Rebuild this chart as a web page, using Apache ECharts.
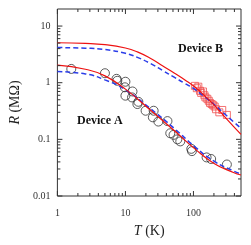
<!DOCTYPE html>
<html><head><meta charset="utf-8">
<script src="https://cdn.jsdelivr.net/npm/echarts@6/dist/echarts.min.js"></script>
<style>html,body{margin:0;padding:0;background:#fff}#c{width:251px;height:245px}</style>
</head><body><div id="c"></div>
<script>
// Device A measurements (circles)
const devA_T = [1.6, 5.0, 7.4, 7.6, 10, 9.8, 10, 12.7, 12.5, 15, 15.5, 19.8, 26, 25.3, 30.5, 41.5, 45.6, 51, 58, 64, 93, 95, 156, 182, 310];
const devA_R = [1.75, 1.47, 1.17, 1.08, 1.04, 0.83, 0.59, 0.70, 0.55, 0.42, 0.46, 0.32, 0.32, 0.245, 0.206, 0.21, 0.128, 0.12, 0.10, 0.092, 0.068, 0.062, 0.048, 0.045, 0.036];
// Device B measurements (squares)
const devB_T = [105, 112, 118, 125, 130, 138, 145, 150, 160, 168, 175, 185, 195, 205, 215, 240, 265, 310];
const devB_R = [0.88, 0.80, 0.85, 0.72, 0.66, 0.70, 0.60, 0.55, 0.52, 0.48, 0.44, 0.42, 0.40, 0.38, 0.34, 0.30, 0.33, 0.27];
// fit curves
const fitA_T    = [1, 2.58, 5, 10, 23.9, 52, 105, 198, 387, 500];
const fitA_red  = [2.04, 1.73, 1.32, 0.77, 0.32, 0.143, 0.068, 0.038, 0.026, 0.0235];
const fitA_blue = [1.57, 1.43, 1.12, 0.75, 0.34, 0.157, 0.074, 0.0415, 0.0277, 0.0245];
const fitB_T    = [1, 2.58, 5, 10, 15, 23.9, 35, 52, 75, 105, 150, 198, 280, 387, 500];
const fitB_red  = [5.07, 4.95, 4.7, 4.1, 3.5, 2.65, 2.0, 1.48, 1.12, 0.84, 0.57, 0.41, 0.26, 0.17, 0.122];
const fitB_blue = [4.17, 4.07, 3.85, 3.3, 2.8, 2.15, 1.65, 1.25, 0.97, 0.76, 0.55, 0.42, 0.29, 0.205, 0.157];
// axes
const xMin = 1, xMax = 500, yMin = 0.01, yMax = 20;
const xMajor = [1, 10, 100];
const xMinor = [2,3,4,5,6,7,8,9,20,30,40,50,60,70,80,90,200,300,400];
const yMajor = [0.01, 0.1, 1, 10];
const yMinor = [0.02,0.03,0.04,0.05,0.06,0.07,0.08,0.09,0.2,0.3,0.4,0.5,0.6,0.7,0.8,0.9,2,3,4,5,6,7,8,9];

const zip = (a, b) => a.map((v, i) => [v, b[i]]);
const serif = '"Liberation Serif","DejaVu Serif",serif';

const xTicks = xMajor.map(v => [v, 1, 5]).concat(xMinor.map(v => [v, 1, 3]));
const yTicks = yMajor.map(v => [1, v, 5]).concat(yMinor.map(v => [1, v, 3]));
const tickStyle = {stroke: '#333', lineWidth: 1};

const chart = echarts.init(document.getElementById('c'), null, {renderer: 'canvas'});
chart.setOption({
  animation: false,
  grid: {left: 55, right: 10, top: 9, bottom: 49, show: true, borderColor: '#333', borderWidth: 1},
  xAxis: {
    type: 'log', logBase: 10, min: xMin, max: xMax,
    axisLine: {show: false}, axisTick: {show: false}, splitLine: {show: false},
    axisLabel: {fontFamily: serif, fontSize: 10, color: '#333', margin: 12, showMaxLabel: false},
    name: '{i|T} (K)', nameLocation: 'middle', nameGap: 28,
    nameTextStyle: {fontFamily: serif, fontSize: 14, color: '#222', rich: {i: {fontFamily: serif, fontSize: 14, fontStyle: 'italic', color: '#222'}}}
  },
  yAxis: {
    type: 'log', logBase: 10, min: yMin, max: yMax,
    axisLine: {show: false}, axisTick: {show: false}, splitLine: {show: false},
    axisLabel: {fontFamily: serif, fontSize: 10, color: '#333', margin: 7, showMaxLabel: false},
    name: '{i|R} (MΩ)', nameLocation: 'middle', nameGap: 34, nameRotate: 90,
    nameTextStyle: {fontFamily: serif, fontSize: 14, color: '#222', rich: {i: {fontFamily: serif, fontSize: 14, fontStyle: 'italic', color: '#222'}}}
  },
  series: [
    {type: 'custom', data: xTicks, silent: true, clip: false, z: 5,
     renderItem: (p, api) => {
       const v = api.value(0), len = api.value(2);
       const b = api.coord([v, yMin]), t = api.coord([v, yMax]);
       return {type: 'group', children: [
         {type: 'line', shape: {x1: b[0], y1: b[1], x2: b[0], y2: b[1] - len}, style: tickStyle},
         {type: 'line', shape: {x1: t[0], y1: t[1], x2: t[0], y2: t[1] + len}, style: tickStyle}
       ]};
     }},
    {type: 'custom', data: yTicks, silent: true, clip: false, z: 5,
     renderItem: (p, api) => {
       const v = api.value(1), len = api.value(2);
       const l = api.coord([xMin, v]), r = api.coord([xMax, v]);
       return {type: 'group', children: [
         {type: 'line', shape: {x1: l[0], y1: l[1], x2: l[0] + len, y2: l[1]}, style: tickStyle},
         {type: 'line', shape: {x1: r[0], y1: r[1], x2: r[0] - len, y2: r[1]}, style: tickStyle}
       ]};
     }},
    {type: 'scatter', data: zip(devA_T, devA_R), symbol: 'circle', symbolSize: 9,
     itemStyle: {color: 'rgba(0,0,0,0)', borderColor: '#333', borderWidth: 1}, z: 2},
    {type: 'scatter', data: zip(devB_T, devB_R), symbol: 'rect', symbolSize: 7,
     itemStyle: {color: 'rgba(0,0,0,0)', borderColor: '#f05050', borderWidth: 1}, z: 2},
    {type: 'line', data: zip(fitA_T, fitA_blue), smooth: true, showSymbol: false, z: 3,
     lineStyle: {color: '#2b3de8', width: 1.5, type: [5, 3]}},
    {type: 'line', data: zip(fitB_T, fitB_blue), smooth: true, showSymbol: false, z: 3,
     lineStyle: {color: '#2b3de8', width: 1.5, type: [5, 3]}},
    {type: 'line', data: zip(fitA_T, fitA_red), smooth: true, showSymbol: false, z: 4,
     lineStyle: {color: '#ee1111', width: 1.2}},
    {type: 'line', data: zip(fitB_T, fitB_red), smooth: true, showSymbol: false, z: 4,
     lineStyle: {color: '#ee1111', width: 1.2}}
  ],
  graphic: [
    {type: 'text', left: 77, top: 115, style: {text: 'Device A', font: 'bold 12px ' + serif, fill: '#111'}},
    {type: 'text', left: 178, top: 43, style: {text: 'Device B', font: 'bold 12px ' + serif, fill: '#111'}}
  ]
});
</script></body></html>
